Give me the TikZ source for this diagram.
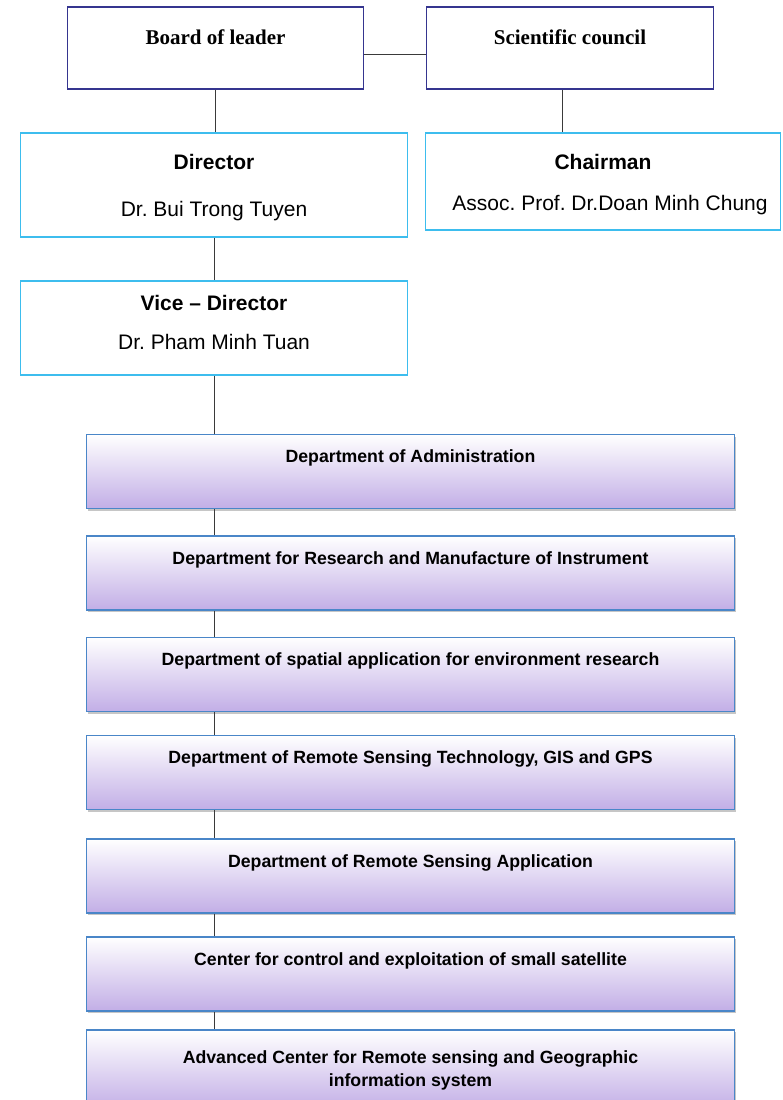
\documentclass[tikz,border=0pt]{standalone}
\usepackage{fontspec}
\setmainfont{Liberation Sans}
\newfontfamily\boardfont{Liberation Serif}
\usepackage{tikz}
\usetikzlibrary{positioning,shadows}
\definecolor{navyline}{HTML}{35358F}
\definecolor{skyline}{HTML}{3DBDEE}
\definecolor{deptline}{HTML}{4A86C8}
\definecolor{lavender}{HTML}{C2AEE6}
\definecolor{wire}{HTML}{3A3A3A}
\frenchspacing

\begin{document}
\begin{tikzpicture}[x=1pt,y=-1pt]
	\useasboundingbox (0,0) rectangle (783,1100);
	\begin{scope}[every node/.style={rectangle,draw=navyline,line width=1.8pt,fill=white,
			minimum width=296pt,inner sep=0pt,text height=37pt,text depth=45pt,
			font=\boardfont\bfseries\fontsize{21}{24}\selectfont}]
		\node (board) at (215.5,48) {Board of leader};
		\node[minimum width=287pt] (sci) at (570,48) {Scientific council};
	\end{scope}
	\begin{scope}[every node/.style={rectangle,draw=skyline,line width=1.6pt,fill=white,
			align=center,inner sep=0pt,font=\fontsize{21}{25}\selectfont}]
		\node[minimum width=387pt,text height=83pt,text depth=21pt] (dir) at (214,185)
			{\textbf{Director}\\[22pt]Dr. Bui Trong Tuyen};
		\node[minimum width=355pt,text height=77pt,text depth=20pt] (chair) at (603,181.5)
			{\textbf{Chairman}\\[16pt]\hspace*{14pt}Assoc. Prof. Dr.Doan Minh Chung};
		\node[minimum width=387pt,text height=68pt,text depth=26pt] (vice) at (214,328)
			{\textbf{Vice -- Director}\\[14pt]Dr. Pham Minh Tuan};
	\end{scope}
	\begin{scope}[every node/.style={rectangle,draw=deptline,line width=1.3pt,
			top color=white,middle color=lavender!80,bottom color=lavender,
			drop shadow={shadow xshift=1.5pt,shadow yshift=-2pt,opacity=0.45},
			minimum width=648pt,inner sep=0pt,text height=28pt,text depth=46pt,
			align=center,font=\bfseries\fontsize{17.7}{23}\selectfont}]
		\node (d1) at (410.5,471.5) {Department of Administration};
		\node (d2) at (410.5,573) {Department for Research and Manufacture of Instrument};
		\node (d3) at (410.5,674.5) {Department of spatial application for environment research};
		\node (d4) at (410.5,772.5) {Department of Remote Sensing Technology, GIS and GPS};
		\node (d5) at (410.5,876) {Department of Remote Sensing Application};
		\node (d6) at (410.5,974) {Center for control and exploitation of small satellite};
		\node[text height=56pt,text depth=24pt] (d7) at (410.5,1070)
			{Advanced Center for Remote sensing and Geographic\\information system};
	\end{scope}
	\begin{scope}[draw=wire,line width=0.9pt]
		\draw ([yshift=-6pt]board.east) -- ([yshift=-6pt]board.east -| sci.west);
		\draw (board.south) -- (board.south |- dir.north);
		\draw ([xshift=-8pt]sci.south) -- ([xshift=-8pt]sci.south |- chair.north);
		\draw (dir.south) -- (vice.north);
		\draw (vice.south) -- (vice.south |- d1.north);
		\draw (d1.south -| vice.south) -- (d2.north -| vice.south);
		\draw (d2.south -| vice.south) -- (d3.north -| vice.south);
		\draw (d3.south -| vice.south) -- (d4.north -| vice.south);
		\draw (d4.south -| vice.south) -- (d5.north -| vice.south);
		\draw (d5.south -| vice.south) -- (d6.north -| vice.south);
		\draw (d6.south -| vice.south) -- (d7.north -| vice.south);
	\end{scope}
\end{tikzpicture}
\end{document}
